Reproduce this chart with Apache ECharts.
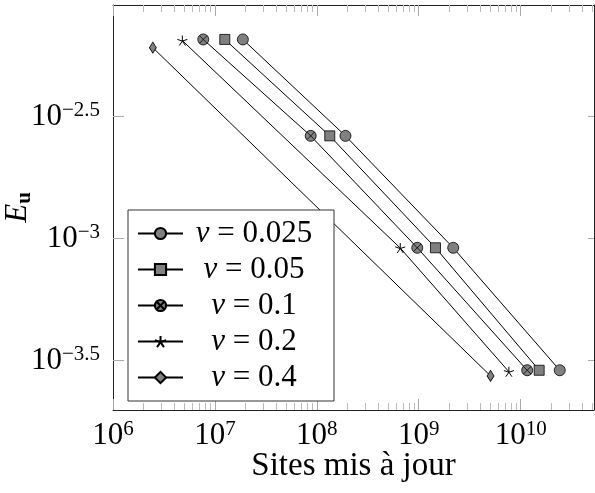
<!DOCTYPE html>
<html>
<head>
<meta charset="utf-8">
<script src="https://cdn.jsdelivr.net/npm/echarts@6/dist/echarts.min.js"></script>
<style>
  html, body { margin: 0; padding: 0; background: #fff; }
  #chart { width: 595px; height: 493px; }
</style>
</head>
<body>
<div id="chart"></div>
<script>
// Error E_u against number of updated sites, for several viscosities nu.
const seriesNames = ['ν = 0.025', 'ν = 0.05', 'ν = 0.1', 'ν = 0.2', 'ν = 0.4'];

const sitesNu025 = [1.88e7, 1.91e8, 2.18e9, 2.42e10];
const errNu025   = [6.56e-3, 2.64e-3, 9.18e-4, 2.89e-4];

const sitesNu05  = [1.25e7, 1.34e8, 1.46e9, 1.52e10];
const errNu05    = [6.56e-3, 2.64e-3, 9.18e-4, 2.89e-4];

const sitesNu1   = [7.69e6, 8.71e7, 9.68e8, 1.16e10];
const errNu1     = [6.56e-3, 2.64e-3, 9.18e-4, 2.89e-4];

const sitesNu2   = [4.79e6, 6.59e8, 7.67e9];
const errNu2     = [6.49e-3, 9.16e-4, 2.85e-4];

const sitesNu4   = [2.46e6, 5.07e9];
const errNu4     = [6.07e-3, 2.74e-4];

// Axis ranges and ticks, in decades (log10 of the values)
const xRange = [6, 10.72];
const yRange = [-3.702, -2.042];
const xMajorTicks = [6, 7, 8, 9, 10];
const yMajorTicks = [-3.5, -3, -2.5];

const FONT = 'Liberation Serif';

const xMinorTicks = [];
for (let n = 6; n <= 10; n++) {
  for (let k = 2; k <= 9; k++) {
    const v = n + Math.log10(k);
    if (v <= xRange[1]) xMinorTicks.push(v);
  }
}

const toLog = (xs, ys) => xs.map((x, i) => [Math.log10(x), Math.log10(ys[i])]);

const circleX = 'path://M0,-10 C5.523,-10 10,-5.523 10,0 C10,5.523 5.523,10 0,10 C-5.523,10 -10,5.523 -10,0 C-10,-5.523 -5.523,-10 0,-10 Z M-7.07,-7.07 L7.07,7.07 M-7.07,7.07 L7.07,-7.07';
const star5 = 'path://M0,0 L0,-10 M0,0 L9.51,-3.09 M0,0 L5.88,8.09 M0,0 L-5.88,8.09 M0,0 L-9.51,-3.09';

const markGray = { color: '#808080', borderColor: '#000', borderWidth: 0.8 };

function makeSeries(name, xs, ys, symbol, size, itemStyle) {
  return {
    name: name,
    type: 'line',
    data: toLog(xs, ys),
    symbol: symbol,
    symbolSize: size,
    showSymbol: true,
    lineStyle: { color: '#000', width: 1 },
    itemStyle: itemStyle,
    emphasis: { disabled: true },
    z: 2
  };
}

const supRich = {
  b: { fontFamily: FONT, fontSize: 31, color: '#000', lineHeight: 34 },
  e: { fontFamily: FONT, fontSize: 21, color: '#000', lineHeight: 20, verticalAlign: 'top' }
};

function tickAxisCommon(extra) {
  return Object.assign({
    type: 'value',
    splitLine: { show: false },
    axisLine: { show: false, onZero: false },
    axisLabel: { show: false },
    axisTick: { show: true, inside: true, length: 11, lineStyle: { color: '#aaa', width: 1 } }
  }, extra);
}

const xAxes = [
  // bottom axis carrying labels and major ticks
  {
    type: 'value', min: xRange[0], max: xRange[1], interval: 1, position: 'bottom',
    splitLine: { show: false },
    axisLine: { show: true, onZero: false, lineStyle: { color: '#222', width: 1 } },
    axisTick: { show: true, inside: true, length: 11, customValues: xMajorTicks, lineStyle: { color: '#aaa', width: 1 } },
    axisLabel: {
      show: true, margin: 9, customValues: xMajorTicks,
      formatter: v => '{b|10}{e|' + v + '}', rich: supRich
    },
    name: 'Sites mis à jour', nameLocation: 'middle', nameGap: 40, nameMoveOverlap: false,
    nameTextStyle: { fontFamily: FONT, fontSize: 33, color: '#000' }
  },
  tickAxisCommon({ min: xRange[0], max: xRange[1], position: 'bottom',
    axisTick: { show: true, inside: true, length: 7, customValues: xMinorTicks, lineStyle: { color: '#bbb', width: 1 } } }),
  tickAxisCommon({ min: xRange[0], max: xRange[1], position: 'top',
    axisLine: { show: true, onZero: false, lineStyle: { color: '#222', width: 1 } },
    axisTick: { show: true, inside: true, length: 11, customValues: xMajorTicks, lineStyle: { color: '#aaa', width: 1 } } }),
  tickAxisCommon({ min: xRange[0], max: xRange[1], position: 'top',
    axisTick: { show: true, inside: true, length: 7, customValues: xMinorTicks, lineStyle: { color: '#bbb', width: 1 } } })
];

const yAxes = [
  {
    type: 'value', min: yRange[0], max: yRange[1], position: 'left',
    splitLine: { show: false },
    axisLine: { show: true, onZero: false, lineStyle: { color: '#222', width: 1 } },
    axisTick: { show: true, inside: true, length: 11, customValues: yMajorTicks, lineStyle: { color: '#aaa', width: 1 } },
    axisLabel: {
      show: true, margin: 13, customValues: yMajorTicks,
      formatter: v => '{b|10}{e|' + String(v).replace('-', '\u2212') + '}', rich: supRich
    },
    name: '{e|E}{u|u}', nameLocation: 'middle', nameGap: 78, nameRotate: 90, nameMoveOverlap: false,
    nameTextStyle: {
      rich: {
        e: { fontFamily: FONT, fontStyle: 'italic', fontSize: 31, color: '#000', lineHeight: 34 },
        u: { fontFamily: FONT, fontWeight: 'bold', fontSize: 21, color: '#000', lineHeight: 20, verticalAlign: 'bottom' }
      }
    }
  },
  tickAxisCommon({ min: yRange[0], max: yRange[1], position: 'right',
    axisLine: { show: true, onZero: false, lineStyle: { color: '#222', width: 1 } },
    axisTick: { show: true, inside: true, length: 6, customValues: yMajorTicks, lineStyle: { color: '#aaa', width: 1 } } })
];

const chart = echarts.init(document.getElementById('chart'), null, { renderer: 'canvas' });
chart.setOption({
  animation: false,
  backgroundColor: '#fff',
  grid: { left: 113, top: 5, width: 481, height: 405, containLabel: false, outerBoundsMode: 'none' },
  xAxis: xAxes,
  yAxis: yAxes,
  legend: {
    orient: 'vertical', left: 128, top: 210,
    itemWidth: 45, itemHeight: 14, itemGap: 5,
    padding: [8, 14, 8, 9],
    backgroundColor: '#fff', borderColor: '#333', borderWidth: 1, borderRadius: 0,
    selectedMode: false,
    data: seriesNames,
    formatter: name => '{n|ν}{t|' + name.slice(1) + '}',
    textStyle: {
      fontFamily: FONT, fontSize: 31, lineHeight: 30, color: '#000', width: 132,
      rich: {
        n: { fontFamily: FONT, fontStyle: 'italic', fontSize: 31, align: 'center' },
        t: { fontFamily: FONT, fontSize: 31, align: 'center' }
      }
    }
  },
  series: [
    makeSeries(seriesNames[0], sitesNu025, errNu025, 'circle', 11, markGray),
    makeSeries(seriesNames[1], sitesNu05, errNu05, 'rect', 10, markGray),
    makeSeries(seriesNames[2], sitesNu1, errNu1, circleX, 11, markGray),
    makeSeries(seriesNames[3], sitesNu2, errNu2, star5, 10, { color: '#000', borderColor: '#000', borderWidth: 1 }),
    makeSeries(seriesNames[4], sitesNu4, errNu4, 'diamond', [7, 11], markGray)
  ]
});
</script>
</body>
</html>
